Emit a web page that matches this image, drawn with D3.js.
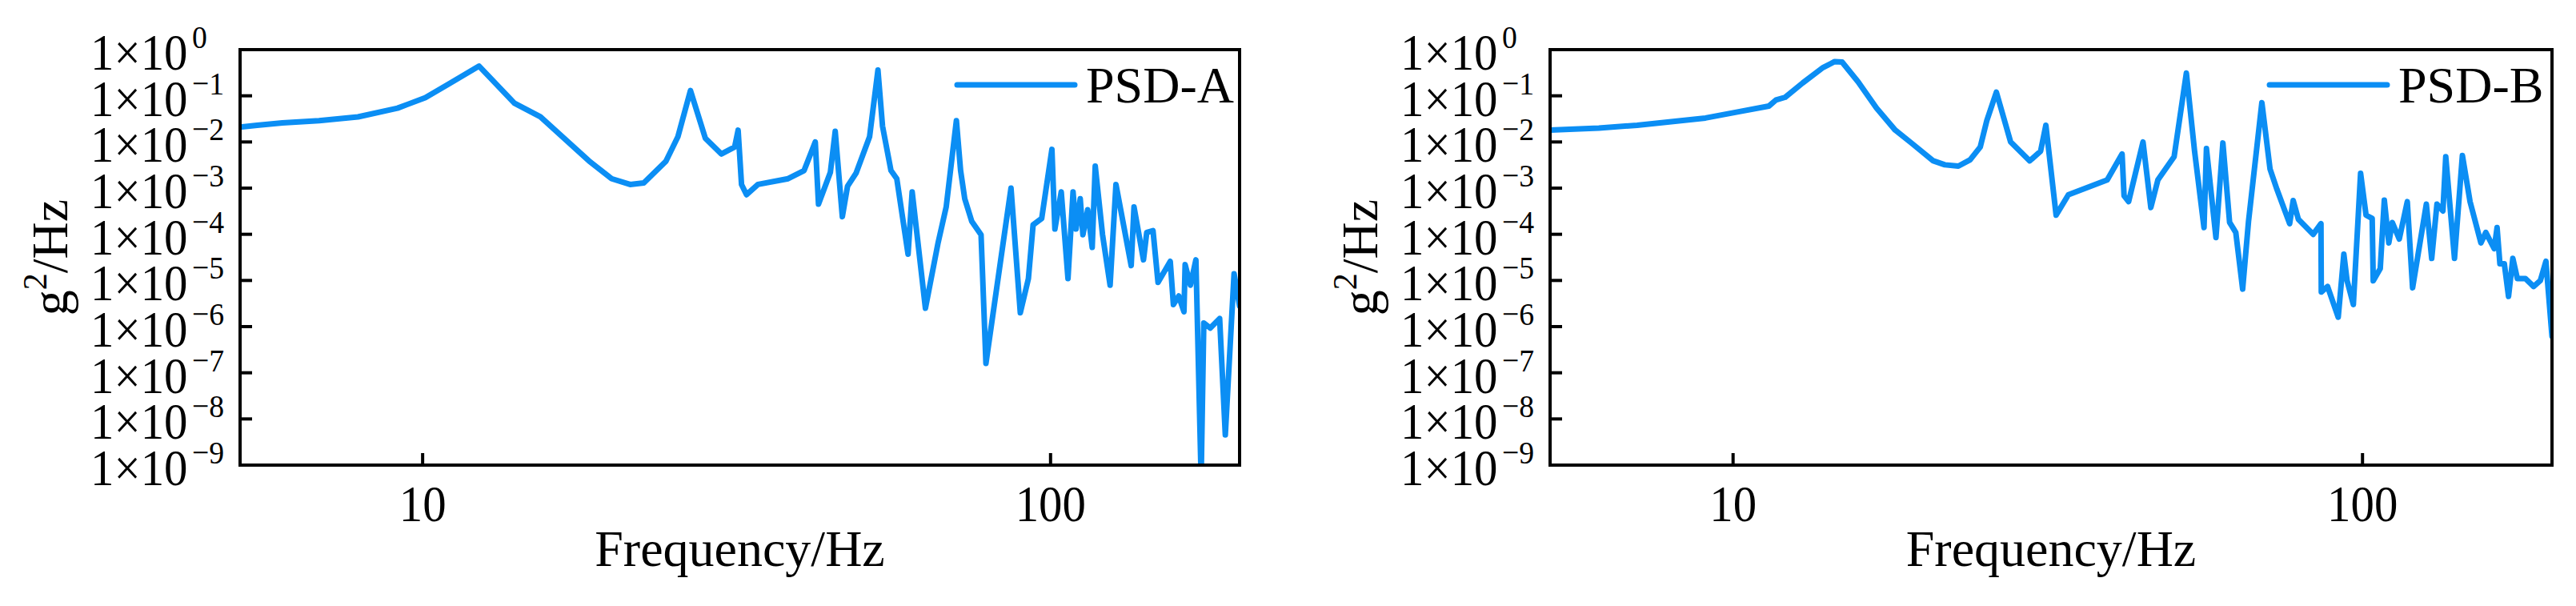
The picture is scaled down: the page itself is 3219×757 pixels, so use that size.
<!DOCTYPE html>
<html><head><meta charset="utf-8">
<script src="https://cdn.jsdelivr.net/npm/d3@7"></script>
<style>
html,body{margin:0;padding:0;background:#fff;}
svg{display:block;font-family:"Liberation Serif","Times New Roman",serif;}
</style></head>
<body>
<script>
// ---- data ----
const freqA = [5.12,5.45,5.98,6.84,7.89,9.12,10.1,11.0,12.3,14.0,15.4,17.4,18.4,20.0,21.4,22.5,24.4,25.5,26.7,28.2,29.9,31.4,31.8,32.2,32.8,34.2,38.2,40.5,42.2,42.7,44.6,45.4,46.6,47.5,49.0,51.5,53.1,54.0,55.7,56.9,59.3,60.2,63.2,66.2,68.2,70.8,71.9,73.0,74.9,77.5,78.9,83.2,86.5,89.5,92.2,93.8,96.8,100.5,101.6,104.0,106.6,108.6,109.8,111.5,112.6,114.6,116.5,117.8,121.0,124.4,127.1,134.4,135.8,140.6,142.3,145.6,148.3,155.1,156.9,160.0,163.1,163.8,167.0,170.4,173.7,175.4,179.6,185.9,189.8,196.0,200];
const psdA = [2.1e-2,2.3e-2,2.6e-2,2.9e-2,3.5e-2,5.4e-2,9.1e-2,1.8e-1,4.4e-1,6.9e-2,3.5e-2,7.8e-3,3.9e-3,1.6e-3,1.2e-3,1.3e-3,3.8e-3,1.3e-2,1.3e-1,1.2e-2,5.5e-3,7.8e-3,1.8e-2,1.2e-3,7.2e-4,1.2e-3,1.6e-3,2.4e-3,1.0e-2,4.5e-4,2.2e-3,1.7e-2,2.4e-4,1.1e-3,2.1e-3,1.3e-2,3.6e-1,2.2e-2,2.4e-3,1.6e-3,3.7e-5,8.3e-4,2.5e-6,6.5e-5,3.9e-4,2.9e-2,2.4e-3,5.9e-4,1.9e-4,9.8e-5,1.6e-7,2.5e-5,1.0e-3,2.0e-6,1.1e-5,1.6e-4,2.2e-4,6.9e-3,1.3e-4,8.3e-4,1.1e-5,8.3e-4,1.3e-4,5.9e-4,9.8e-5,3.4e-4,5.2e-5,3.0e-3,9.8e-5,7.9e-6,1.2e-3,2.1e-5,3.9e-4,2.8e-5,1.1e-4,1.2e-4,9.1e-6,2.6e-5,3.0e-6,4.6e-6,2.1e-6,2.2e-5,7.9e-6,2.8e-5,5e-10,1.2e-6,9.3e-7,1.5e-6,4.5e-9,1.4e-5,2.8e-6];
const freqB = [5.12,6.12,7.04,9.04,10.2,11.4,11.7,12.1,12.9,13.9,14.5,14.9,15.8,16.9,18.1,19.2,20.8,21.7,22.8,23.8,24.7,25.3,26.2,27.6,29.6,30.8,31.4,32.6,34.1,39.3,41.5,41.8,42.5,44.8,46.1,47.3,50.2,52.5,54.1,56.0,56.5,58.5,60.0,61.5,62.9,64.5,65.9,69.2,71.3,73.1,76.6,77.6,79.1,83.5,85.9,86.0,88.0,91.5,93.4,94.5,96.7,99.3,101.3,103.6,104.0,106.7,108.3,110.1,111.5,114.4,117.8,120.1,126.3,128.8,131.3,134.2,135.6,140.0,144.1,148.2,154.2,157.0,161.9,163.6,165.3,168.0,170.6,173.3,176.2,181.5,187.0,191.7,195.6,200];
const psdB = [1.8e-2,2.0e-2,2.3e-2,3.3e-2,4.5e-2,6.0e-2,8.1e-2,9.3e-2,1.9e-1,4.1e-1,5.5e-1,5.4e-1,2.0e-1,5.4e-2,1.8e-2,9.5e-3,3.9e-3,3.2e-3,3.0e-3,4.1e-3,7.8e-3,2.9e-2,1.2e-1,1.0e-2,3.9e-3,6.3e-3,2.3e-2,2.6e-4,7.2e-4,1.5e-3,5.5e-3,6.8e-4,5.1e-4,1.0e-2,3.8e-4,1.5e-3,4.8e-3,3.1e-1,6.3e-3,1.4e-4,7.2e-3,8.5e-5,9.5e-3,1.8e-4,1.1e-4,6.5e-6,1.9e-4,7.1e-2,2.6e-3,9.5e-4,1.7e-4,5.4e-4,2.1e-4,1.0e-4,1.7e-4,5.6e-6,7.4e-6,1.6e-6,3.7e-5,1.0e-5,3.0e-6,2.1e-3,2.6e-4,2.2e-4,9.8e-6,1.8e-5,5.5e-4,6.5e-5,1.8e-4,7.9e-5,5.1e-4,6.9e-6,4.5e-4,3.0e-5,4.5e-4,3.2e-4,4.8e-3,3.0e-5,5.1e-3,5.1e-4,6.5e-5,1.1e-4,4.9e-5,1.4e-4,2.3e-5,2.3e-5,4.5e-6,3.0e-5,1.1e-5,1.1e-5,7.4e-6,1.0e-5,2.6e-5,6.2e-7];
const seriesNames = ["PSD-A","PSD-B"];
const xTicks = [10,100];
const yExponents = [0,-1,-2,-3,-4,-5,-6,-7,-8,-9];
const xTitle = "Frequency/Hz";

// ---- layout ----
const W = 3219, H = 757;
const panels = [
  {x0:300, x1:1549, freq:freqA, psd:psdA, name:seriesNames[0]},
  {x0:1937, x1:3189, freq:freqB, psd:psdB, name:seriesNames[1]}
];
const plotTop = 62, plotBottom = 581;
const color = "#0b8ef4";
const sx = 0.92; // narrow tick-label glyphs

const svg = d3.select("body").append("svg").attr("width",W).attr("height",H);

panels.forEach((p,i)=>{
  const x = d3.scaleLog().domain([5.12,200]).range([p.x0,p.x1]);
  const y = d3.scaleLog().domain([1e-9,1]).range([plotBottom,plotTop]);
  const g = svg.append("g");
  const clipId = "clip"+i;
  svg.append("clipPath").attr("id",clipId).append("rect")
    .attr("x",p.x0).attr("y",plotTop).attr("width",p.x1-p.x0).attr("height",plotBottom-plotTop);

  const data = p.freq.map((f,k)=>[f,p.psd[k]]);
  g.append("path").datum(data)
    .attr("clip-path","url(#"+clipId+")")
    .attr("fill","none").attr("stroke",color).attr("stroke-width",7)
    .attr("stroke-linejoin","round").attr("stroke-linecap","round")
    .attr("d", d3.line().x(d=>x(d[0])).y(d=>y(d[1])));

  g.append("rect").attr("x",p.x0).attr("y",plotTop).attr("width",p.x1-p.x0).attr("height",plotBottom-plotTop)
    .attr("fill","none").attr("stroke","#000").attr("stroke-width",4);

  xTicks.forEach(t=>{
    g.append("line").attr("x1",x(t)).attr("x2",x(t)).attr("y1",plotBottom).attr("y2",plotBottom-15)
      .attr("stroke","#000").attr("stroke-width",4);
    g.append("text").attr("transform",`translate(${x(t)},${plotBottom+70}) scale(${sx},1)`)
      .attr("text-anchor","middle").attr("font-size",64).text(t);
  });
  yExponents.forEach(e=>{
    const yy = y(Math.pow(10,e));
    if (e<0 && e>-9) {
      g.append("line").attr("x1",p.x0).attr("x2",p.x0+15).attr("y1",yy).attr("y2",yy)
        .attr("stroke","#000").attr("stroke-width",4);
    }
    g.append("text").attr("transform",`translate(${p.x0-187},${yy+25}) scale(${sx},1)`)
      .attr("font-size",64).text("1×10");
    g.append("text").attr("transform",`translate(${p.x0-60},${yy-2}) scale(${sx},1)`)
      .attr("font-size",41).text(e===0?"0":"−"+(-e));
  });
  const yt = g.append("text").attr("transform",`translate(${p.x0-216},${(plotTop+plotBottom)/2}) rotate(-90)`)
    .attr("text-anchor","middle").attr("font-size",64);
  yt.append("tspan").text("g");
  yt.append("tspan").attr("font-size",42).attr("dy",-26).text("2");
  yt.append("tspan").attr("dy",26).text("/Hz");
  g.append("text").attr("x",(p.x0+p.x1)/2).attr("y",707).attr("text-anchor","middle")
    .attr("font-size",64).text(xTitle);
  g.append("line").attr("x1",p.x1-353).attr("x2",p.x1-206).attr("y1",plotTop+44).attr("y2",plotTop+44)
    .attr("stroke",color).attr("stroke-width",7).attr("stroke-linecap","round");
  g.append("text").attr("x",p.x1-192).attr("y",plotTop+66).attr("font-size",64).text(p.name);
});
</script>
</body></html>
